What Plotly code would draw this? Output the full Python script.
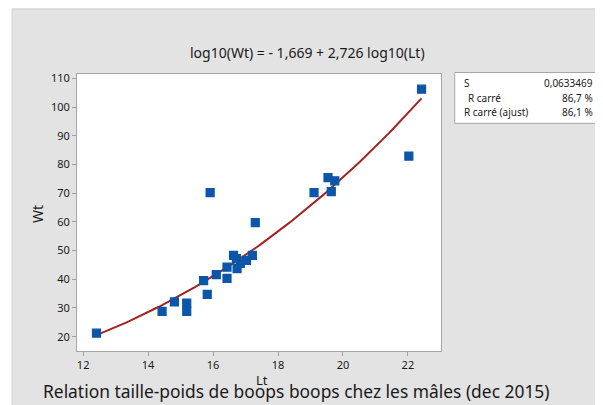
import numpy as np
import plotly.graph_objects as go

# Data
lt = [12.41, 14.43, 14.81, 15.19, 15.19, 15.71, 15.82, 15.91, 16.10, 16.43, 16.43,
      16.63, 16.72, 16.84, 16.74, 17.03, 17.21, 17.30, 19.11, 19.54, 19.64, 19.75,
      22.03, 22.42]
wt = [21.2, 28.8, 32.1, 31.7, 28.8, 39.5, 34.7, 70.2, 41.6, 44.2, 40.3,
      48.3, 47.2, 45.5, 43.7, 46.6, 48.3, 59.7, 70.2, 75.4, 70.5, 74.3,
      82.9, 106.2]

# Fitted regression coefficients (from the chart title)
intercept = -1.669
slope = 2.726

x_ticks = [12, 14, 16, 18, 20, 22]
y_ticks = [20, 30, 40, 50, 60, 70, 80, 90, 100, 110]

stats_labels = ["S", " R carré", "R carré (ajust)"]
stats_values = ["0,0633469", "86,7 %", "86,1 %"]

fit_x = np.linspace(min(lt), max(lt), 100)
fit_y = 10 ** (intercept + slope * np.log10(fit_x))

FONT = "Noto Sans"
TXT = "#1a1a1a"
fig = go.Figure()
fig.add_trace(go.Scatter(x=fit_x, y=fit_y, mode="lines",
                         line=dict(color="#a52222", width=2), hoverinfo="skip"))
fig.add_trace(go.Scatter(x=lt, y=wt, mode="markers",
                         marker=dict(symbol="square", size=8, color="#0b56a8",
                                     line=dict(color="#0b56a8", width=1.2))))

FW, FH = 603, 405
OFF = 8  # page body margin
# plot area in window pixels
PL, PR, PT, PB = 77, 441.3, 73.5, 351.5
L = PL - OFF
R = FW - (PR - OFF)
T = PT - OFF
B = FH - (PB - OFF)
W = FW - L - R
H = FH - T - B

def px(X):  # window x -> paper
    return (X - OFF - L) / W

def py(Y):  # window y -> paper
    return (FH - B - (Y - OFF)) / H

shapes = [
    dict(type="rect", xref="paper", yref="paper", x0=px(-20), x1=px(12), y0=py(430), y1=py(-20),
         fillcolor="white", line=dict(width=0), layer="above"),
    dict(type="line", xref="paper", yref="paper", x0=px(12), x1=px(620), y0=py(8.5), y1=py(8.5),
         line=dict(color="#d6d6d6", width=1)),
    dict(type="line", xref="paper", yref="paper", x0=px(12), x1=px(12), y0=py(8), y1=py(430),
         line=dict(color="#d6d6d6", width=1)),
    dict(type="rect", xref="paper", yref="paper", x0=px(455), x1=px(598), y0=py(123), y1=py(72),
         fillcolor="white", line=dict(color="#a6a6a6", width=1)),
]

def ann(text, X, Y, size, xanchor="center", **kw):
    return dict(text=text, xref="paper", yref="paper", x=px(X), y=py(Y), showarrow=False,
                xanchor=xanchor, yanchor="middle", font=dict(family=FONT, size=size, color=TXT), **kw)

annotations = [
    ann("log10(Wt) = - 1,669 + 2,726 log10(Lt)", 308, 52, 14),
    ann("Relation taille-poids de boops boops chez les mâles (dec 2015)", 297, 392, 17.4),
    ann("Lt", 262, 381, 13),
    ann("Wt", 38, 214, 14, textangle=-90),
]
row_y = [83, 98, 112]
for lab, val, yy in zip(stats_labels, stats_values, row_y):
    annotations.append(ann(lab.strip(), 466 if lab.startswith(" ") else 462, yy, 10, xanchor="left"))
    annotations.append(ann(val, 595, yy, 10, xanchor="right"))

fig.update_layout(
    width=FW, height=FH,
    margin=dict(l=L, r=R, t=T, b=B, autoexpand=False),
    paper_bgcolor="#e3e3e3", plot_bgcolor="white",
    showlegend=False,
    shapes=shapes, annotations=annotations,
    font=dict(family=FONT, color=TXT),
)
fig.update_xaxes(range=[11.81, 23.02], tickvals=x_ticks, ticks="outside", ticklen=4,
                 tickcolor="#a0a0a0", showgrid=False, zeroline=False, showline=True,
                 linecolor="#a6a6a6", mirror=True, tickfont=dict(size=11))
fig.update_yaxes(range=[15.0, 111.5], tickvals=y_ticks, ticks="outside", ticklen=4,
                 tickcolor="#a0a0a0", showgrid=False, zeroline=False, showline=True,
                 linecolor="#a6a6a6", mirror=True, tickfont=dict(size=11))

fig.write_html("out.html")
